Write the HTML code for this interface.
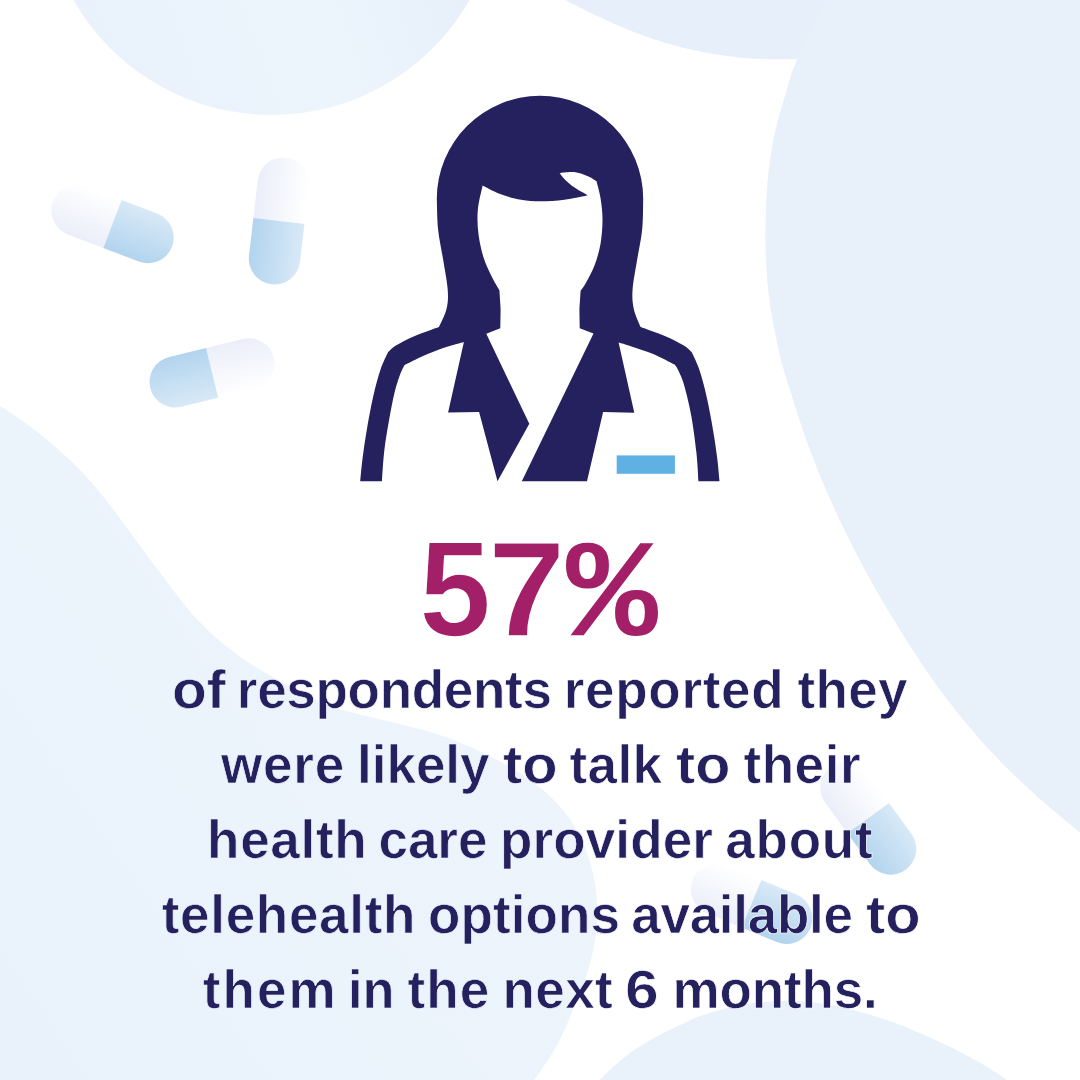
<!DOCTYPE html>
<html lang="en">
<head>
<meta charset="utf-8">
<title>57% telehealth</title>
<style>
html,body{margin:0;padding:0;background:#fff;}
body{width:1080px;height:1080px;position:relative;overflow:hidden;font-family:"Liberation Sans",sans-serif;}
#bg{position:absolute;left:0;top:0;width:1080px;height:1080px;display:block;}
.big{position:absolute;left:0;top:522.3px;width:1080px;height:139px;color:#a32068;font-weight:bold;font-size:135.5px;line-height:135.5px;white-space:nowrap;-webkit-text-stroke:1.6px #fff;}
.big span{position:absolute;top:0;transform-origin:0 0;}
.ln{position:absolute;left:0;width:1080px;height:60px;color:#25215f;font-weight:bold;font-size:53.0px;line-height:60px;white-space:nowrap;}
.ln span{position:absolute;top:0;-webkit-text-stroke:0.7px #f5f9fe;}
.ln .w{-webkit-text-stroke-color:#ffffff;}
.ln .b{-webkit-text-stroke-color:#ecf3fc;}
</style>
</head>
<body>
<svg id="bg" width="1080" height="1080" viewBox="0 0 1080 1080">
  <defs>
    <linearGradient id="gw" x1="0" y1="0" x2="0" y2="1">
      <stop offset="0" stop-color="#ffffff"/>
      <stop offset="1" stop-color="#ebeef9"/>
    </linearGradient>
    <linearGradient id="gb" x1="0" y1="0" x2="0" y2="1">
      <stop offset="0" stop-color="#d8e9f7"/>
      <stop offset="1" stop-color="#b2d4ee"/>
    </linearGradient>
    <linearGradient id="gc" gradientUnits="userSpaceOnUse" x1="100" y1="115" x2="470" y2="-20">
      <stop offset="0" stop-color="#e9f2fb"/>
      <stop offset="0.6" stop-color="#ecf4fc"/>
      <stop offset="1" stop-color="#e7f0fa"/>
    </linearGradient>
    <linearGradient id="gl" gradientUnits="userSpaceOnUse" x1="0" y1="1080" x2="560" y2="700">
      <stop offset="0" stop-color="#e9f2fb"/>
      <stop offset="1" stop-color="#edf4fc"/>
    </linearGradient>
  </defs>
  <rect width="1080" height="1080" fill="#ffffff"/>
  <!-- blobs -->
  <circle cx="271.5" cy="-113" r="228" fill="url(#gc)"/>
  <path d="M540.0,-14.0 C544.2,-11.7 555.7,-4.9 565.0,0.0 C574.3,4.9 585.9,10.7 595.6,15.3 C605.3,19.9 614.0,24.0 623.3,27.8 C632.5,31.6 641.8,35.1 651.1,38.3 C660.4,41.4 669.6,44.3 678.9,46.7 C688.2,49.1 697.5,51.1 706.7,52.8 C716.0,54.5 725.1,55.9 734.4,56.9 C743.6,57.9 751.7,58.5 762.2,58.9 C772.7,59.2 785.9,59.5 797.2,59.0 C808.5,58.5 824.5,56.5 830.0,56.0 L860,-20 Z" fill="#e7f0fa"/>
  <path d="M836.0,-20.0 C834.4,-16.7 833.0,-13.2 826.5,0.0 C820.0,13.2 804.3,42.3 797.2,59.0 C790.1,75.7 787.8,86.5 783.8,100.0 C779.8,113.5 776.0,126.7 773.3,140.0 C770.6,153.3 769.0,166.7 767.7,180.0 C766.4,193.3 766.0,206.7 765.7,220.0 C765.4,233.3 765.4,246.7 766.0,260.0 C766.6,273.3 767.8,288.0 769.3,300.0 C770.8,312.0 773.0,322.0 775.0,332.0 C777.0,342.0 778.5,350.3 781.0,360.0 C783.5,369.7 785.2,375.0 790.0,390.0 C794.8,405.0 802.5,430.0 810.0,450.0 C817.5,470.0 825.8,490.0 835.0,510.0 C844.2,530.0 854.2,550.0 865.0,570.0 C875.8,590.0 887.5,610.0 900.0,630.0 C912.5,650.0 925.8,670.8 940.0,690.0 C954.2,709.2 970.0,728.3 985.0,745.0 C1000.0,761.7 1014.2,775.4 1030.0,790.0 C1045.8,804.6 1068.3,822.8 1080.0,832.5 C1091.7,842.2 1096.7,845.4 1100.0,848.0 L1100,-20 Z" fill="#e8f0fa"/>
  <path d="M-30.0,388.0 C-25.0,391.0 -9.6,400.0 0.0,406.1 C9.6,412.2 18.5,417.9 27.8,424.7 C37.1,431.5 46.4,438.8 55.6,446.9 C64.8,455.0 74.0,463.3 83.3,473.3 C92.5,483.3 101.8,494.9 111.1,506.7 C120.4,518.5 129.6,531.7 138.9,544.2 C148.2,556.7 157.4,569.7 166.7,581.7 C175.9,593.8 185.2,606.3 194.4,616.5 C203.7,626.7 212.9,635.2 222.2,643.0 C231.5,650.8 240.7,657.3 250.0,663.5 C259.3,669.7 268.9,674.8 277.8,680.0 C286.7,685.2 293.5,689.8 303.3,694.5 C313.1,699.2 325.6,704.2 336.7,708.0 C347.8,711.8 358.9,714.2 370.0,717.0 C381.1,719.8 392.2,722.2 403.3,725.0 C414.4,727.8 425.6,730.4 436.7,734.0 C447.8,737.6 458.9,741.8 470.0,746.7 C481.1,751.6 492.2,756.9 503.3,763.3 C514.4,769.7 527.2,777.8 536.7,785.0 C546.2,792.2 553.3,799.2 560.0,806.7 C566.7,814.2 572.0,821.7 576.7,830.0 C581.4,838.3 585.2,847.8 588.3,856.7 C591.3,865.6 593.5,874.4 595.0,883.3 C596.5,892.2 596.9,901.1 597.0,910.0 C597.1,918.9 596.7,927.8 595.5,936.7 C594.3,945.6 592.3,954.4 590.0,963.3 C587.7,972.2 584.5,982.2 581.7,990.0 C578.9,997.8 577.0,1001.0 573.0,1010.0 C569.0,1019.0 564.2,1032.0 557.8,1043.7 C551.4,1055.4 540.7,1070.6 534.4,1080.0 C528.1,1089.4 522.4,1096.7 520.0,1100.0 L-30,1100 Z" fill="url(#gl)"/>
  <path d="M585.0,1095.0 C587.4,1092.5 590.9,1087.7 599.3,1080.0 C607.7,1072.3 620.9,1058.7 635.6,1048.9 C650.3,1039.1 673.3,1027.9 687.4,1021.4 C701.5,1014.9 709.1,1013.0 720.0,1010.0 C730.9,1007.0 741.9,1004.8 753.0,1003.3 C764.1,1001.8 775.5,1000.7 786.7,1000.7 C797.9,1000.7 809.0,1001.8 820.0,1003.3 C831.0,1004.8 841.9,1007.2 853.0,1010.0 C864.1,1012.8 875.5,1016.1 886.7,1020.0 C897.9,1023.9 909.0,1028.6 920.0,1033.3 C931.0,1038.0 941.9,1042.7 953.0,1048.3 C964.1,1053.9 977.8,1061.4 986.7,1066.7 C995.7,1072.0 1000.3,1075.3 1006.7,1080.0 C1013.1,1084.7 1022.0,1092.5 1025.0,1095.0 Z" fill="#e9f1fb"/>
  <!-- pills -->
  <g transform="translate(112.5,224) rotate(20.9)"><path d="M0,-25.7 H-38 A25.7,25.7 0 0 0 -38,25.7 H0 Z" fill="url(#gw)"/><path d="M0,-25.7 H38 A25.7,25.7 0 0 1 38,25.7 H0 Z" fill="url(#gb)"/></g>
  <g transform="translate(278.9,221) rotate(96.6)"><path d="M0,-25.7 H-38 A25.7,25.7 0 0 0 -38,25.7 H0 Z" fill="url(#gw)"/><path d="M0,-25.7 H38 A25.7,25.7 0 0 1 38,25.7 H0 Z" fill="url(#gb)"/></g>
  <g transform="translate(212.1,372.9) rotate(166.3)"><path d="M0,-25.7 H-38 A25.7,25.7 0 0 0 -38,25.7 H0 Z" fill="url(#gw)"/><path d="M0,-25.7 H38 A25.7,25.7 0 0 1 38,25.7 H0 Z" fill="url(#gb)"/></g>
  <g transform="translate(868.3,818.2) rotate(54)"><path d="M0,-25.7 H-38 A25.7,25.7 0 0 0 -38,25.7 H0 Z" fill="url(#gw)"/><path d="M0,-25.7 H38 A25.7,25.7 0 0 1 38,25.7 H0 Z" fill="url(#gb)"/></g>
  <g transform="translate(751.5,903.8) rotate(22.5)"><path d="M0,-25.7 H-38 A25.7,25.7 0 0 0 -38,25.7 H0 Z" fill="url(#gw)"/><path d="M0,-25.7 H38 A25.7,25.7 0 0 1 38,25.7 H0 Z" fill="url(#gb)"/></g>
  <!-- icon -->
  <g id="icon" fill="#25215f">
    <path fill-rule="evenodd" d="M360.2,481.2 C360.6,477.4 361.5,466.6 362.6,458.1 C363.7,449.6 364.9,440.6 366.7,430.4 C368.4,420.2 370.8,407.2 373.1,397.0 C375.4,386.8 378.1,376.8 380.6,369.3 C383.1,361.8 386.8,355.1 388.0,352.2 C389.4,351.0 391.8,347.9 396.3,345.2 C400.8,342.5 407.7,338.9 414.8,335.9 C421.9,332.9 434.9,328.5 438.9,327.0 C440.2,324.0 445.0,315.1 446.5,308.9 C448.0,302.7 448.3,298.0 447.7,289.6 C447.1,281.2 444.5,268.3 442.9,258.3 C441.3,248.3 439.1,239.3 438.1,229.4 C437.1,219.5 437.0,204.1 436.8,199.0 A103.2,103.2 0 0 1 643.2,199 C643.0,204.1 643.2,219.5 642.2,229.4 C641.2,239.3 639.0,248.3 637.4,258.3 C635.8,268.3 633.2,281.2 632.6,289.6 C632.0,298.0 632.5,302.7 633.8,308.9 C635.1,315.1 639.5,324.0 640.6,327.0 C644.6,328.5 657.7,332.9 664.8,335.9 C671.9,338.9 678.9,342.5 683.4,345.2 C687.9,347.9 690.4,351.0 691.8,352.2 C693.0,355.1 696.7,361.8 699.2,369.3 C701.7,376.8 704.4,386.8 706.7,397.0 C709.0,407.2 711.4,420.2 713.1,430.4 C714.9,440.6 716.1,449.6 717.2,458.1 C718.3,466.6 719.1,477.4 719.5,481.2 Z M482.6,185.6 C481.8,189.7 478.5,202.1 477.8,210.2 C477.1,218.3 477.5,226.3 478.5,234.3 C479.5,242.3 481.5,251.1 483.8,258.3 C486.1,265.5 489.6,272.3 492.2,277.6 C494.8,282.9 498.2,288.2 499.4,290.3 L500.6,308.9 L500.3,328.3 L486.3,333.8 L529.3,423.8 L497.5,481.2 L521.8,481.2 L593.5,333.4 L579.7,328.3 L579.4,308.9 L580.6,290.8 C581.5,289.4 583.8,286.6 586.1,282.4 C588.4,278.2 592.1,271.9 594.5,265.5 C596.9,259.1 599.2,251.5 600.5,243.9 C601.8,236.3 602.5,227.4 602.5,219.8 C602.5,212.2 601.5,204.5 600.5,198.1 C599.5,191.7 597.2,184.1 596.5,181.3 C595.2,180.5 592.2,178.0 588.5,176.5 C584.8,175.0 578.9,172.7 574.1,172.1 C569.3,171.5 562.0,172.8 559.6,172.9 C560.4,173.9 562.0,176.5 564.4,178.9 C566.8,181.3 570.2,184.6 574.1,187.3 C578.0,190.0 585.5,194.0 587.8,195.3 C583.9,196.1 572.3,198.8 564.4,199.8 C556.5,200.8 547.6,201.3 540.4,201.3 C533.2,201.3 527.9,201.1 521.1,199.8 C514.3,198.6 505.8,196.2 499.4,193.8 C493.0,191.4 485.4,187.0 482.6,185.6 Z M381.9,481.2 C382.3,476.1 383.1,460.7 384.3,450.7 C385.5,440.7 387.2,430.7 388.9,421.1 C390.6,411.5 392.5,401.0 394.4,393.3 C396.2,385.6 398.3,379.5 400.0,374.8 C401.7,370.1 403.8,366.6 404.6,365.0 C407.9,363.4 417.2,358.4 424.1,355.4 C431.1,352.4 439.7,349.2 446.3,347.0 C452.9,344.8 461.0,342.8 463.9,341.9 L448.1,412.5 L479.1,412.0 L497.5,481.2 Z M698.4,481.2 C698.1,476.4 697.6,463.5 696.4,452.6 C695.2,441.7 693.3,427.1 691.3,415.9 C689.3,404.7 686.4,393.0 684.2,385.4 C682.0,377.8 679.7,373.6 678.1,370.1 C676.5,366.6 675.2,365.5 674.6,364.6 C670.9,362.8 659.7,356.8 652.6,353.8 C645.5,350.8 637.9,348.6 632.2,346.7 C626.5,344.8 620.9,343.3 618.6,342.6 L634.3,412.7 L603.1,412.0 L587.0,481.2 Z"/>
    <rect x="616.7" y="455.4" width="58.2" height="18.4" fill="#5fb1e4"/>
  </g>
</svg>
<div class="big"><span style="left:419.1px;transform:scaleX(0.958)">5</span><span style="left:487.8px;transform:scaleX(1.027)">7</span><span style="left:565.9px;top:6.4px;font-family:'Liberation Mono',monospace;font-size:139.8px;line-height:139.8px;-webkit-text-stroke:0;transform:scaleX(1.096)">%</span></div>
<div class="ln" style="top:660.1px"><span class="b" style="left:171.6px;transform-origin:0 0;transform:scaleX(1.073)">of</span> <span class="m" style="left:236.8px;letter-spacing:-0.29px">respondents</span> <span class="w" style="left:563.8px;letter-spacing:0.70px">reported</span> <span class="w" style="left:797.6px;letter-spacing:0.30px">they</span></div>
<div class="ln" style="top:734.6px"><span class="b" style="left:221.0px;letter-spacing:0.80px">were</span> <span class="b" style="left:357.1px;letter-spacing:-0.04px">likely</span> <span class="m" style="left:502.6px;transform-origin:0 0;transform:scaleX(1.093)">to</span> <span class="w" style="left:569.6px;letter-spacing:0.35px">talk</span> <span class="w" style="left:675.9px;transform-origin:0 0;transform:scaleX(1.087)">to</span> <span class="w" style="left:743.4px;letter-spacing:0.59px">their</span></div>
<div class="ln" style="top:810.1px"><span class="b" style="left:207.1px;letter-spacing:0.70px">health</span> <span class="b" style="left:378.5px;letter-spacing:-0.04px">care</span> <span class="m" style="left:500.1px;letter-spacing:0.10px">provider</span> <span class="w" style="left:725.3px;letter-spacing:0.76px">about</span></div>
<div class="ln" style="top:885.3px"><span class="b" style="left:161.7px;letter-spacing:0.71px">telehealth</span> <span class="b" style="left:428.0px;letter-spacing:0.11px">options</span> <span class="w" style="left:631.3px;letter-spacing:-0.29px">available</span> <span class="w" style="left:865.9px;transform-origin:0 0;transform:scaleX(1.093)">to</span></div>
<div class="ln" style="top:960.1px"><span class="b" style="left:202.7px;letter-spacing:2.10px">them</span> <span class="b" style="left:347.6px;transform-origin:0 0;transform:scaleX(0.987)">in</span> <span class="b" style="left:407.6px;letter-spacing:1.01px">the</span> <span class="m" style="left:502.6px;letter-spacing:0.35px">next</span> <span class="w" style="left:625.2px;transform-origin:0 0;transform:scaleX(1.143)">6</span> <span class="w" style="left:672.6px;letter-spacing:-0.16px">months.</span></div>
</body>
</html>
